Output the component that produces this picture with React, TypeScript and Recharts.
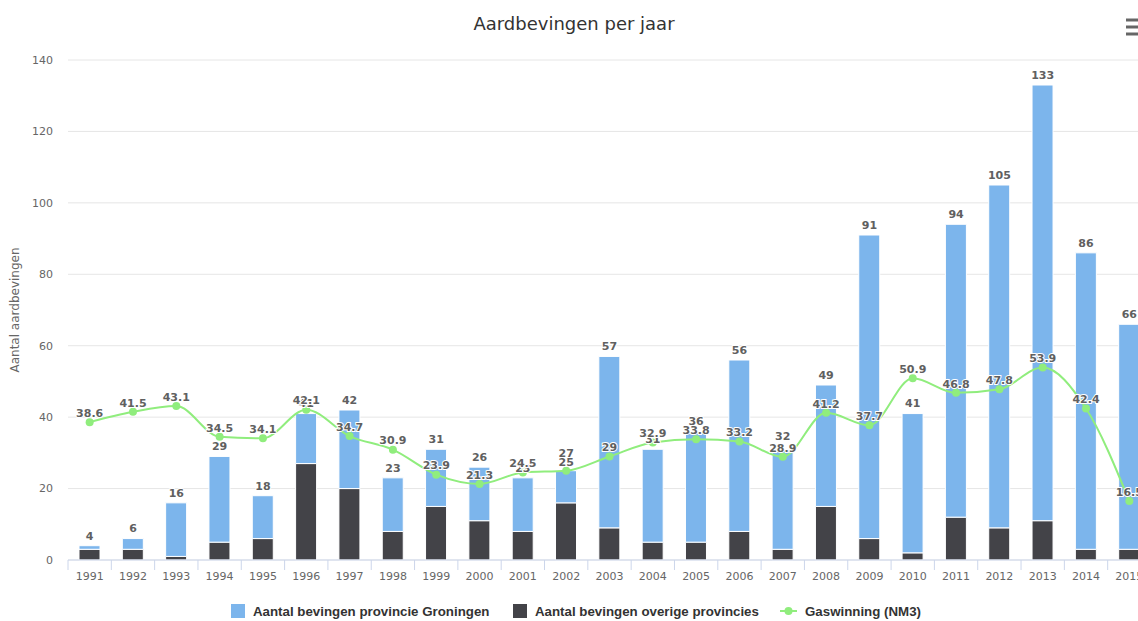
import React from 'react';
import {
  ComposedChart,
  Bar,
  Line,
  XAxis,
  YAxis,
  CartesianGrid,
  LabelList,
} from 'recharts';

const years = ['1991', '1992', '1993', '1994', '1995', '1996', '1997', '1998', '1999', '2000', '2001', '2002', '2003', '2004', '2005', '2006', '2007', '2008', '2009', '2010', '2011', '2012', '2013', '2014', '2015'];
const groningen = [1, 3, 15, 24, 12, 14, 22, 15, 16, 15, 15, 9, 48, 26, 31, 48, 28, 34, 85, 39, 82, 96, 122, 83, 63];
const overige = [3, 3, 1, 5, 6, 27, 20, 8, 15, 11, 8, 16, 9, 5, 5, 8, 3, 15, 6, 2, 12, 9, 11, 3, 3];
const totalLabels = [4, 6, 16, 29, 18, 41, 42, 23, 31, 26, 23, 27, 57, 31, 36, 56, 32, 49, 91, 41, 94, 105, 133, 86, 66];
const gaswinning = [38.6, 41.5, 43.1, 34.5, 34.1, 42.1, 34.7, 30.9, 23.9, 21.3, 24.5, 25, 29, 32.9, 33.8, 33.2, 28.9, 41.2, 37.7, 50.9, 46.8, 47.8, 53.9, 42.4, 16.5];
const yTicks = [0, 20, 40, 60, 80, 100, 120, 140];

const data = years.map((year, i) => ({
  year,
  groningen: groningen[i],
  overige: overige[i],
  total: totalLabels[i],
  gas: gaswinning[i],
}));

const CHART_W = 1151;
const CHART_H = 621;
const Y_W = 68;
const BAND = (CHART_W - Y_W) / years.length;

const BLUE = '#7cb5ec';
const DARK = '#434348';
const GREEN = '#90ed7d';
const LABEL_COLOR = '#606060';

const XTick = (props: any) => {
  const { x, y, payload, index } = props;
  return (
    <g>
      <line x1={x - BAND / 2} x2={x - BAND / 2} y1={y - 12} y2={y - 2} stroke="#ccd6eb" strokeWidth={1} />
      {index === years.length - 1 && (
        <line x1={x + BAND / 2} x2={x + BAND / 2} y1={y - 12} y2={y - 2} stroke="#ccd6eb" strokeWidth={1} />
      )}
      <text x={x} y={y} dy="0.71em" textAnchor="middle" fill="#666" fontSize={11} fontFamily="DejaVu Sans">
        {payload.value}
      </text>
    </g>
  );
};

const PointLabel = (offset: number) => (props: any) => {
  const { x, y, value } = props;
  return (
    <text
      x={x}
      y={y - offset}
      dy="0.35em"
      textAnchor="middle"
      fill={LABEL_COLOR}
      fontSize={11}
      fontWeight="bold"
      fontFamily="DejaVu Sans"
      stroke="#fff"
      strokeWidth={2}
      paintOrder="stroke"
    >
      {value}
    </text>
  );
};

const TotalLabel = PointLabel(10);
const GasLabel = PointLabel(9);

const YLabel = (props: any) => {
  const vb = props.viewBox || { x: 0, y: 60, width: 68, height: 500 };
  const cx = vb.x + 15;
  const cy = vb.y + vb.height / 2;
  return (
    <text
      x={cx}
      y={cy}
      transform={`rotate(-90, ${cx}, ${cy})`}
      textAnchor="middle"
      dominantBaseline="central"
      fill="#666"
      fontSize={12}
      fontFamily="DejaVu Sans"
    >
      Aantal aardbevingen
    </text>
  );
};

export default function App() {
  return (
    <div
      style={{
        position: 'fixed',
        left: 0,
        top: 0,
        width: 1138,
        height: 621,
        overflow: 'hidden',
        background: '#fff',
      }}
    >
      <ComposedChart
        width={CHART_W}
        height={CHART_H}
        data={data}
        margin={{ top: 60, right: 0, bottom: 31, left: 0 }}
      >
        <CartesianGrid vertical={false} stroke="#e6e6e6" />
        <XAxis
          dataKey="year"
          height={30}
          axisLine={{ stroke: '#ccd6eb' }}
          tickLine={false}
          tickSize={10}
          tickMargin={2}
          interval={0}
          tick={(p: any) => <XTick {...p} />}
        />
        <YAxis
          width={Y_W}
          domain={[0, 140]}
          ticks={yTicks}
          axisLine={false}
          tickLine={false}
          tickSize={0}
          tickMargin={15}
          tick={{ fill: '#666', fontSize: 11, fontFamily: 'DejaVu Sans' }}
          label={(p: any) => <YLabel {...p} />}
        />
        <Bar dataKey="overige" stackId="a" fill={DARK} stroke="#fff" strokeWidth={1} barSize={21} isAnimationActive={false} />
        <Bar dataKey="groningen" stackId="a" fill={BLUE} stroke="#fff" strokeWidth={1} barSize={21} isAnimationActive={false} />
        <Line
          dataKey="total"
          stroke="none"
          dot={false}
          activeDot={false}
          legendType="none"
          isAnimationActive={false}
        >
          <LabelList dataKey="total" content={(p: any) => <TotalLabel {...p} />} />
        </Line>
        <Line
          type="monotone"
          dataKey="gas"
          stroke={GREEN}
          strokeWidth={2}
          dot={{ r: 4, fill: GREEN, stroke: GREEN, strokeWidth: 0 }}
          activeDot={false}
          isAnimationActive={false}
        >
          <LabelList dataKey="gas" content={(p: any) => <GasLabel {...p} />} />
        </Line>
      </ComposedChart>

      <svg
        width={1138}
        height={621}
        style={{ position: 'absolute', left: 0, top: 0, pointerEvents: 'none' }}
      >
        <text x={574} y={30} textAnchor="middle" fill="#333" fontSize={18} fontFamily="DejaVu Sans">
          Aardbevingen per jaar
        </text>
        <g stroke="#666" strokeWidth={3}>
          <line x1={1126} x2={1140} y1={20} y2={20} />
          <line x1={1126} x2={1140} y1={27} y2={27} />
          <line x1={1126} x2={1140} y1={34} y2={34} />
        </g>
        <g fontFamily="Liberation Sans" fontWeight="bold" fontSize={13.3} fill="#333">
          <rect x={231} y={604} width={14} height={14} fill={BLUE} />
          <text x={253} y={611} dominantBaseline="central">Aantal bevingen provincie Groningen</text>
          <rect x={513} y={604} width={14} height={14} fill={DARK} />
          <text x={535} y={611} dominantBaseline="central">Aantal bevingen overige provincies</text>
          <line x1={780} x2={797} y1={611} y2={611} stroke={GREEN} strokeWidth={2} />
          <circle cx={788.5} cy={611} r={4} fill={GREEN} />
          <text x={805} y={611} dominantBaseline="central">Gaswinning (NM3)</text>
        </g>
      </svg>
    </div>
  );
}
